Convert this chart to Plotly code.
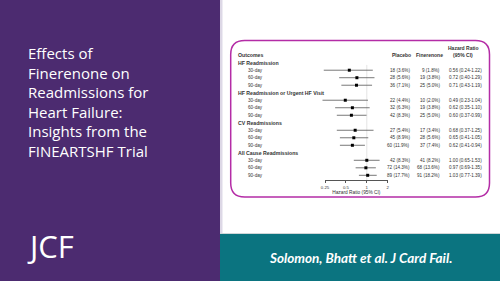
import math
import plotly.graph_objects as go

# ---------------- data ----------------
title_lines = ["Effects of", "Finerenone on", "Readmissions for", "Heart Failure:",
               "Insights from the", "FINEARTSHF Trial"]
journal = "JCF"
citation = "Solomon, Bhatt et al. J Card Fail."

groups = ["HF Readmission", "HF Readmission or Urgent HF Visit",
          "CV Readmissions", "All Cause Readmissions"]
timepoints = ["30-day", "60-day", "90-day"]

placebo_n = [18, 28, 36, 22, 32, 42, 27, 45, 60, 42, 72, 89]
placebo_pct = [3.6, 5.6, 7.1, 4.4, 6.3, 8.3, 5.4, 8.9, 11.9, 8.3, 14.3, 17.7]
finer_n = [9, 19, 25, 10, 19, 25, 17, 28, 37, 41, 68, 91]
finer_pct = [1.8, 3.8, 5.0, 2.0, 3.8, 5.0, 3.4, 5.6, 7.4, 8.2, 13.6, 18.2]
hr = [0.56, 0.72, 0.71, 0.49, 0.62, 0.60, 0.68, 0.65, 0.62, 1.00, 0.97, 1.03]
hr_lo = [0.24, 0.40, 0.43, 0.23, 0.35, 0.37, 0.37, 0.41, 0.41, 0.65, 0.69, 0.77]
hr_hi = [1.22, 1.29, 1.19, 1.04, 1.10, 0.99, 1.25, 1.05, 0.94, 1.53, 1.35, 1.39]

tick_vals = [0.25, 0.5, 1, 2]
tick_text = ["0.25", "0.5", "1", "2"]
axis_title = "Hazard Ratio (95% CI)"
col_headers = ["Placebo", "Finerenone"]
hr_header = ["Hazard Ratio", "(95% CI)"]

# ---------------- layout helpers ----------------
W, H = 500, 281
def px(x): return x / W
def py(y): return 1 - y / H

PURPLE = "#4C2B70"
TEAL = "#0B7480"
MAGENTA = "#B42CA6"
TXT = "#333333"
FONT = "Liberation Sans"

# rows: header row for each group then 3 timepoints
row_labels, row_y, row_bold = [], [], []
data_rows = []
r = 0
for g in groups:
    row_labels.append(g); row_y.append(r); row_bold.append(True); r += 1
    for t in timepoints:
        row_labels.append(t); row_y.append(r); row_bold.append(False)
        data_rows.append(r); r += 1

row0_px, row_step = 62.7, 7.507
axis_px = 180.0
y_top = -row0_px / row_step
y_bot = (axis_px - row0_px) / row_step

# x scale (log)
ax_l, ax_r = 325.0, 387.7
ppd = (ax_r - ax_l) / math.log10(tick_vals[-1] / tick_vals[0])
wide_l, wide_r = 295.0, 400.0
wide_range = [math.log10(tick_vals[0]) - (ax_l - wide_l) / ppd,
              math.log10(tick_vals[-1]) + (wide_r - ax_r) / ppd]

fig = go.Figure()

# CI lines
lx, ly = [], []
for yy, lo, hi in zip(data_rows, hr_lo, hr_hi):
    lx += [lo, hi, None]; ly += [yy, yy, None]
fig.add_trace(go.Scatter(x=lx, y=ly, mode="lines", xaxis="x2", yaxis="y",
                         line=dict(color="#555555", width=0.8), hoverinfo="skip",
                         showlegend=False))
# reference line at 1
fig.add_trace(go.Scatter(x=[1, 1], y=[0.3, y_bot], mode="lines", xaxis="x", yaxis="y",
                         line=dict(color="#d0d0d0", width=0.6), hoverinfo="skip",
                         showlegend=False))
# point estimates
fig.add_trace(go.Scatter(x=hr, y=data_rows, mode="markers", xaxis="x2", yaxis="y",
                         marker=dict(symbol="square", size=3, color="black"),
                         showlegend=False))

ann = []
# forest labels
ann.append(dict(text="<b>Outcomes</b>", x=px(236), y=-1, xref="paper", yref="y",
                xanchor="left", yanchor="middle", showarrow=False,
                font=dict(family=FONT, size=5.2, color=TXT)))
for lab, yy, b in zip(row_labels, row_y, row_bold):
    ann.append(dict(text=f"<b>{lab}</b>" if b else lab,
                    x=px(236 if b else 246), y=yy, xref="paper", yref="y",
                    xanchor="left", yanchor="middle", showarrow=False,
                    font=dict(family=FONT, size=5.2 if b else 4.6, color=TXT)))
# column headers
ann.append(dict(text=f"<b>{col_headers[0]}</b>", x=px(401.7), y=-1, xref="paper", yref="y",
                xanchor="center", yanchor="middle", showarrow=False,
                font=dict(family=FONT, size=5.0, color=TXT)))
ann.append(dict(text=f"<b>{col_headers[1]}</b>", x=px(429.7), y=-1, xref="paper", yref="y",
                xanchor="center", yanchor="middle", showarrow=False,
                font=dict(family=FONT, size=5.0, color=TXT)))
for i, h in enumerate(hr_header):
    ann.append(dict(text=f"<b>{h}</b>", x=px(463), y=-2 + i, xref="paper", yref="y",
                    xanchor="center", yanchor="middle", showarrow=False,
                    font=dict(family=FONT, size=5.0, color=TXT)))
for i, yy in enumerate(data_rows):
    ann.append(dict(text=f"{placebo_n[i]} ({placebo_pct[i]:.1f}%)", x=px(412), y=yy,
                    xref="paper", yref="y", xanchor="right", yanchor="middle",
                    showarrow=False, font=dict(family=FONT, size=4.6, color=TXT)))
    ann.append(dict(text=f"{finer_n[i]} ({finer_pct[i]:.1f}%)", x=px(442), y=yy,
                    xref="paper", yref="y", xanchor="right", yanchor="middle",
                    showarrow=False, font=dict(family=FONT, size=4.6, color=TXT)))
    ann.append(dict(text=f"{hr[i]:.2f} ({hr_lo[i]:.2f}-{hr_hi[i]:.2f})", x=px(447), y=yy,
                    xref="paper", yref="y", xanchor="left", yanchor="middle",
                    showarrow=False, font=dict(family=FONT, size=4.6, color=TXT)))

# left panel title (single multi-line text)
ann.append(dict(text="<br>".join(title_lines), x=px(26), y=py(102), xref="paper",
                yref="paper", xanchor="left", yanchor="middle", align="left",
                showarrow=False, font=dict(family="Open Sans", size=15, color="white")))
ann.append(dict(text=journal, x=px(25), y=py(246), xref="paper", yref="paper",
                xanchor="left", yanchor="middle", showarrow=False,
                font=dict(family="Open Sans", size=31, color="white")))
ann.append(dict(text=citation, x=px(360), y=py(257.5), xref="paper", yref="paper",
                xanchor="center", yanchor="middle", showarrow=False,
                font=dict(family="Lato", size=13.5, color="white", weight="bold",
                          style="italic")))

# shapes
x0, x1, y0, y1, rr = 230.7, 489.5, 40.5, 197.0, 14.0
path = (f"M {px(x0+rr)},{py(y0)} L {px(x1-rr)},{py(y0)} "
        f"Q {px(x1)},{py(y0)} {px(x1)},{py(y0+rr)} L {px(x1)},{py(y1-rr)} "
        f"Q {px(x1)},{py(y1)} {px(x1-rr)},{py(y1)} L {px(x0+rr)},{py(y1)} "
        f"Q {px(x0)},{py(y1)} {px(x0)},{py(y1-rr)} L {px(x0)},{py(y0+rr)} "
        f"Q {px(x0)},{py(y0)} {px(x0+rr)},{py(y0)} Z")
shapes = [
    dict(type="rect", xref="paper", yref="paper", x0=0, x1=px(220), y0=0, y1=1,
         fillcolor=PURPLE, line=dict(width=0), layer="below"),
    dict(type="rect", xref="paper", yref="paper", x0=px(220), x1=px(222.5), y0=py(234), y1=1,
         fillcolor="#DDD8E6", line=dict(width=0), layer="below"),
    dict(type="rect", xref="paper", yref="paper", x0=px(220), x1=1, y0=0, y1=py(234),
         fillcolor=TEAL, line=dict(width=0), layer="below"),
    dict(type="line", xref="paper", yref="paper", x0=px(220), x1=1, y0=py(233.5), y1=py(233.5),
         line=dict(color="#cfd6d8", width=1), layer="below"),
    dict(type="path", xref="paper", yref="paper", path=path,
         line=dict(color=MAGENTA, width=1.5), layer="below"),
]

fig.update_layout(
    width=W, height=H, margin=dict(l=0, r=0, t=0, b=0),
    paper_bgcolor="white", plot_bgcolor="rgba(0,0,0,0)",
    showlegend=False, annotations=ann, shapes=shapes,
    xaxis=dict(type="log", domain=[px(ax_l), px(ax_r)],
               range=[math.log10(tick_vals[0]), math.log10(tick_vals[-1])],
               anchor="y", showgrid=False, zeroline=False, showline=True,
               linecolor="#555555", linewidth=0.8, ticks="outside", ticklen=2.5,
               tickwidth=0.8, tickcolor="#555555", tickvals=tick_vals, ticktext=tick_text,
               tickfont=dict(family=FONT, size=4.3, color=TXT), automargin=False,
               title=dict(text=axis_title, font=dict(family=FONT, size=4.8, color=TXT),
                          standoff=1)),
    xaxis2=dict(type="log", domain=[px(wide_l), px(wide_r)], range=wide_range,
                anchor="y", visible=False),
    yaxis=dict(domain=[py(axis_px), 1], range=[y_bot, y_top], visible=False),
)

fig.write_html("out.html")
